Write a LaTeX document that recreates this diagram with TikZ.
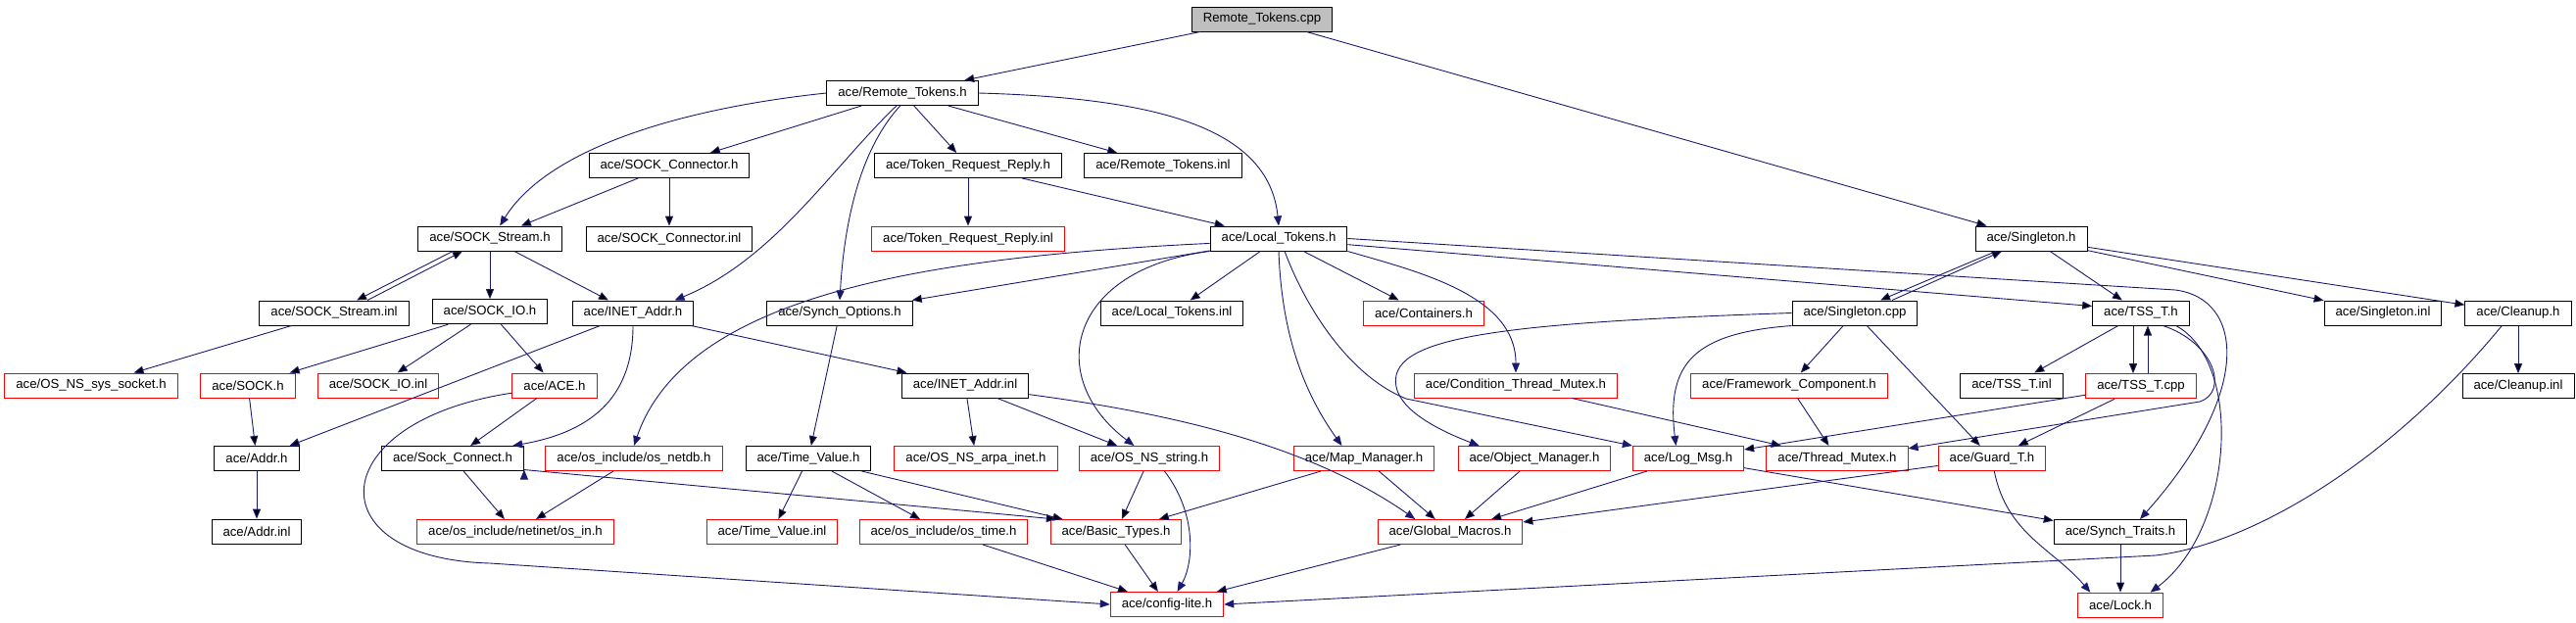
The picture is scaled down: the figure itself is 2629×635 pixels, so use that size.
\documentclass[tikz,border=0pt]{standalone}
\usepackage{fontspec}
\setmainfont{Liberation Sans}
\usepackage{tikz}
\usetikzlibrary{arrows.meta}
\definecolor{edgeblue}{HTML}{191970}

\begin{document}
\begin{tikzpicture}[x=1pt, y=-1pt, node distance=74.7pt,
		file/.style={rectangle, draw=black, line width=1pt, minimum height=25pt, inner xsep=11.5pt, inner ysep=2pt, font=\fontsize{13.2}{15}\selectfont},
		missing/.style={file, draw=red},
		root/.style={file, fill=black!25},
		incl/.style={-{Triangle[length=10pt,width=8pt]}, draw=edgeblue, line width=0.9pt}]
			\useasboundingbox (0,0) rectangle (2629,635);

			\node[root] (cpp) at (1288,19.5) {Remote\_Tokens.cpp};
			\node[file] (rtok) at (921,95) {ace/Remote\_Tokens.h};
			\node[file] (sockconn) at (683,169) {ace/SOCK\_Connector.h};
			\node[file] (trr) at (988,169) {ace/Token\_Request\_Reply.h};
			\node[file] (rtokinl) at (1187,169) {ace/Remote\_Tokens.inl};
			\node[file] (sockstream) at (500,243.5) {ace/SOCK\_Stream.h};
			\node[file] (sockconninl) [below of=sockconn] {ace/SOCK\_Connector.inl};
			\node[missing] (trrinl) [below of=trr] {ace/Token\_Request\_Reply.inl};
			\node[file] (ltok) at (1305,243.5) {ace/Local\_Tokens.h};
			\node[file] (singleton) at (2073,243.5) {ace/Singleton.h};
			\node[file] (sockstreaminl) at (341,319.5) {ace/SOCK\_Stream.inl};
			\node[file] (sockio) [below of=sockstream] {ace/SOCK\_IO.h};
			\node[file] (inetaddr) at (646,319.5) {ace/INET\_Addr.h};
			\node[file] (synchopt) at (857,319.5) {ace/Synch\_Options.h};
			\node[file] (ltokinl) at (1196,319.5) {ace/Local\_Tokens.inl};
			\node[missing] (containers) at (1453,319.5) {ace/Containers.h};
			\node[file] (singletoncpp) at (1893,319.5) {ace/Singleton.cpp};
			\node[file] (tssh) at (2185,319.5) {ace/TSS\_T.h};
			\node[file] (singletoninl) at (2432,319.5) {ace/Singleton.inl};
			\node[file] (cleanup) at (2570,319.5) {ace/Cleanup.h};
			\node[missing] (ossyssocket) at (93,393.5) {ace/OS\_NS\_sys\_socket.h};
			\node[missing] (sock) at (253,393.5) {ace/SOCK.h};
			\node[missing] (sockioinl) at (386,393.5) {ace/SOCK\_IO.inl};
			\node[missing] (ace) at (566,393.5) {ace/ACE.h};
			\node[file] (inetaddrinl) at (985,393.5) {ace/INET\_Addr.inl};
			\node[missing] (condmutex) at (1547,393.5) {ace/Condition\_Thread\_Mutex.h};
			\node[missing] (framework) at (1826,393.5) {ace/Framework\_Component.h};
			\node[file] (tssinl) at (2053,393.5) {ace/TSS\_T.inl};
			\node[missing] (tsscpp) [below of=tssh] {ace/TSS\_T.cpp};
			\node[file] (cleanupinl) [below of=cleanup] {ace/Cleanup.inl};
			\node[file] (addr) at (262,468) {ace/Addr.h};
			\node[file] (sockconnect) at (462,468) {ace/Sock\_Connect.h};
			\node[missing] (netdb) at (647,468) {ace/os\_include/os\_netdb.h};
			\node[file] (timevalue) at (825,468) {ace/Time\_Value.h};
			\node[missing] (arpainet) at (996,468) {ace/OS\_NS\_arpa\_inet.h};
			\node[missing] (osstring) at (1173,468) {ace/OS\_NS\_string.h};
			\node[missing] (mapmgr) at (1392,468) {ace/Map\_Manager.h};
			\node[missing] (objmgr) at (1566,468) {ace/Object\_Manager.h};
			\node[missing] (logmsg) at (1723,468) {ace/Log\_Msg.h};
			\node[missing] (threadmutex) at (1875,468) {ace/Thread\_Mutex.h};
			\node[missing] (guard) at (2033,468) {ace/Guard\_T.h};
			\node[file] (addrinl) [below of=addr] {ace/Addr.inl};
			\node[missing] (osin) at (526,543) {ace/os\_include/netinet/os\_in.h};
			\node[missing] (timevalueinl) at (788,543) {ace/Time\_Value.inl};
			\node[missing] (ostime) at (963,543) {ace/os\_include/os\_time.h};
			\node[missing] (basictypes) at (1139,543) {ace/Basic\_Types.h};
			\node[missing] (globalmacros) at (1480,543) {ace/Global\_Macros.h};
			\node[file] (synchtraits) at (2164,543) {ace/Synch\_Traits.h};
			\node[missing] (configlite) at (1191,617) {ace/config-lite.h};
			\node[missing] (lock) [below of=synchtraits] {ace/Lock.h};

			\path[incl]
				(cpp) edge (rtok)
				(cpp) edge (singleton)
				(rtok) edge (sockconn)
				(rtok) edge (trr)
				(rtok) edge (rtokinl)
				(sockconn) edge (sockstream)
				(sockconn) edge (sockconninl)
				(trr) edge (trrinl)
				(trr) edge (ltok)
				([xshift=-38pt]sockstream.south) edge ([xshift=23pt]sockstreaminl.north)
				([xshift=34pt]sockstreaminl.north) edge ([xshift=-28pt]sockstream.south)
				(sockstream) edge (sockio)
				(sockstream) edge (inetaddr)
				(sockstreaminl) edge (ossyssocket)
				(sockio) edge (sock)
				(sockio) edge (sockioinl)
				(sockio) edge (ace)
				(inetaddr) edge (addr)
				(inetaddr) edge (inetaddrinl)
				(synchopt) edge (timevalue)
				(ltok) edge (ltokinl)
				(ltok) edge (containers)
				(ltok.190) edge (synchopt.10)
				(ltok.-5) edge (tssh.172)
				(singleton) edge (tssh)
				(singleton) edge (singletoninl)
				(singleton) edge (cleanup)
				([xshift=-36pt]singleton.south) edge ([xshift=26pt]singletoncpp.north)
				([xshift=38pt]singletoncpp.north) edge ([xshift=-30pt]singleton.south)
				(singletoncpp) edge (framework)
				(singletoncpp) edge (guard)
				(tssh) edge (tssinl)
				([xshift=-8pt]tssh.south) edge ([xshift=-8pt]tsscpp.north)
				([xshift=7pt]tsscpp.north) edge ([xshift=7pt]tssh.south)
				(cleanup) edge (cleanupinl)
				(sock) edge (addr)
				(ace) edge (sockconnect)
				(inetaddrinl) edge (arpainet)
				(inetaddrinl) edge (osstring)
				(condmutex) edge (threadmutex)
				(framework) edge (threadmutex)
				(tsscpp) edge (logmsg)
				(tsscpp) edge (guard)
				(addr) edge (addrinl)
				(sockconnect) edge (osin)
				(sockconnect.-9) edge (basictypes.168)
				(netdb) edge (osin)
				(timevalue) edge (timevalueinl)
				(timevalue) edge (ostime)
				(timevalue) edge (basictypes)
				(osstring) edge (basictypes)
				(mapmgr) edge (basictypes)
				(mapmgr) edge (globalmacros)
				(objmgr) edge (globalmacros)
				(logmsg) edge (globalmacros)
				(logmsg) edge (synchtraits)
				(guard) edge (globalmacros)
				(synchtraits) edge (lock)
				(ostime) edge (configlite)
				(basictypes) edge (configlite)
				(globalmacros) edge (configlite);

			\draw[incl] (rtok.west) .. controls (700,110) and (560,150) .. (sockstream.52);
			\draw[incl] (rtok.-115) .. controls (850,170) and (790,265) .. (inetaddr.17);
			\draw[incl] (rtok.-100) .. controls (880,150) and (862,220) .. (synchopt.north);
			\draw[incl] (rtok.east) .. controls (1180,100) and (1295,130) .. (ltok.north);
			\draw[incl] (inetaddr.south) .. controls (646,400) and (610,440) .. (sockconnect.12);
			\draw[incl] (ace.190) .. controls (330,430) and (320,570) .. (500,575) -- (configlite.west);
			\draw[incl] (inetaddrinl.-8) .. controls (1180,420) and (1330,450) .. (globalmacros.160);
			\draw[incl] (ltok.184) .. controls (950,262) and (700,300) .. (netdb.north);
			\draw[incl] (ltok.south west) .. controls (1090,275) and (1065,385) .. (osstring.140);
			\draw[incl] (ltok.south) .. controls (1308,340) and (1330,400) .. (mapmgr.150);
			\draw[incl] (ltok.-65) .. controls (1335,320) and (1380,385) .. (1435,407) -- (logmsg.north west);
			\draw[incl] (ltok.south east) .. controls (1450,278) and (1547,302) .. (condmutex.north);
			\draw[incl] (ltok.east) -- (2220,296) .. controls (2290,305) and (2300,400) .. (synchtraits.33);
			\draw[incl] (osstring.-40) .. controls (1222,525) and (1218,575) .. (configlite.51);
			\draw[incl] (tssh.-20) .. controls (2290,370) and (2280,540) .. (lock.23);
			\draw[incl] (tssh.-30) .. controls (2260,350) and (2275,400) .. (2245,410) -- (threadmutex.8);
			\draw[incl] (guard.-80) .. controls (2048,545) and (2095,560) .. (lock.157);
			\draw[incl] (singletoncpp.west) .. controls (1520,330) and (1415,345) .. (1425,395) .. controls (1430,420) and (1470,440) .. (objmgr.167);
			\draw[incl] (singletoncpp.south west) .. controls (1730,340) and (1700,370) .. (logmsg.134);
			\draw[incl] (cleanup.-142) .. controls (2440,470) and (2300,555) .. (2200,567) -- (configlite.east);
		\end{tikzpicture}
\end{document}
